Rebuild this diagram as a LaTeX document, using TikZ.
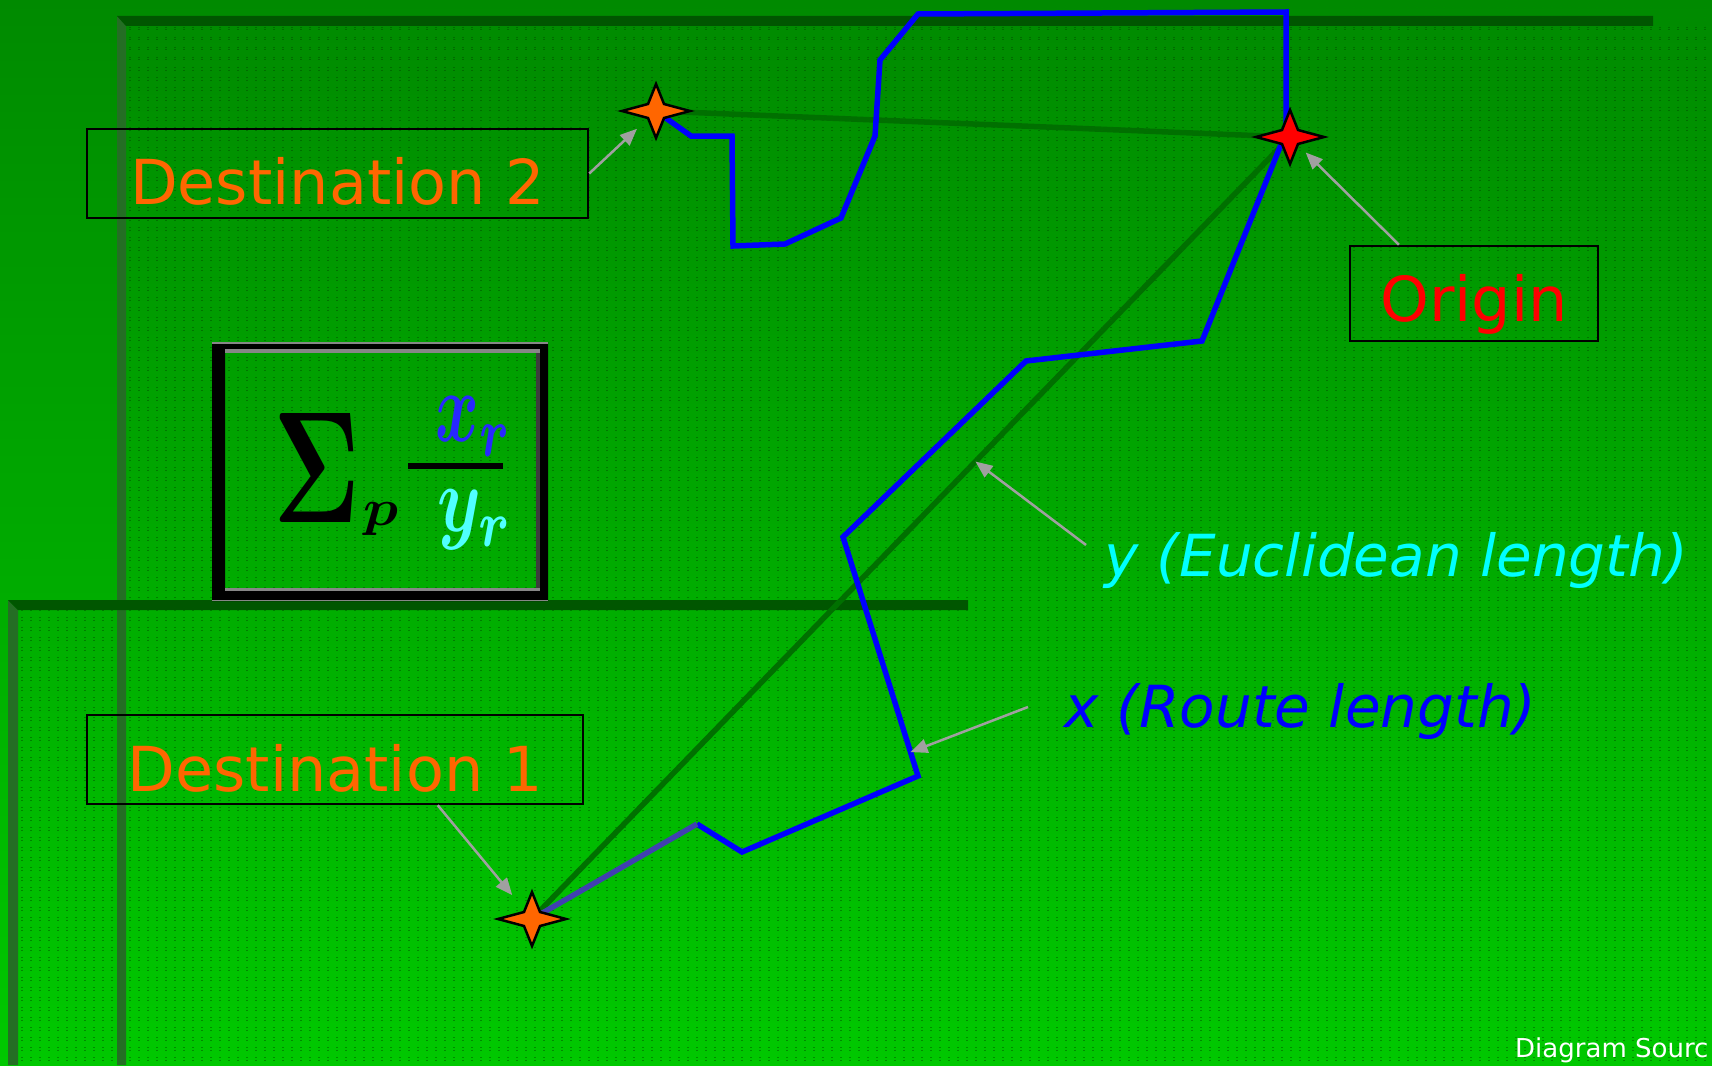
\documentclass[tikz,border=0pt]{standalone}
\usepackage{fontspec}
\setmainfont{DejaVu Sans}
\usepackage{amsmath}
\usepackage{bm}
\usepackage{graphicx}
\usetikzlibrary{arrows.meta,calc}

\definecolor{bgtop}{RGB}{0,138,0}
\definecolor{bgbot}{RGB}{0,200,0}
\definecolor{barDark}{RGB}{0,86,0}
\definecolor{barSide}{RGB}{36,110,36}
\definecolor{dotc}{RGB}{0,70,0}
\definecolor{euclid}{RGB}{0,112,0}
\definecolor{routeblue}{RGB}{0,0,255}
\definecolor{routeslate}{RGB}{64,64,176}
\definecolor{destorange}{RGB}{255,102,0}
\definecolor{callgray}{RGB}{160,160,160}
\definecolor{xblue}{RGB}{40,40,255}
\definecolor{ycyan}{RGB}{80,255,255}
\definecolor{labcyan}{RGB}{0,255,255}
\definecolor{fgray}{RGB}{135,135,135}
\definecolor{fdark}{RGB}{60,60,60}

\tikzset{
  pics/fourstar/.style={code={
    \filldraw[draw=black, line width=2.5pt, fill=#1]
      (34,0) -- (8,7) -- (0,27) -- (-8,7) -- (-34,0) -- (-8,-7) -- (0,-27) -- (8,-7) -- cycle;}},
  labelbox/.style={draw=black, line width=2.5pt, inner sep=0pt,
    font=\fontsize{62}{70}\selectfont, text depth=0pt},
  route/.style={draw=routeblue, line width=5.5pt},
  euclidline/.style={draw=euclid, line width=5.5pt},
  callout/.style={draw=callgray, line width=2.5pt, -{Triangle[length=17pt,width=14pt]}},
  lenlabel/.style={inner sep=0pt, anchor=base west, font=\fontsize{58}{66}\selectfont\itshape},
  mathpart/.style={inner sep=0pt, anchor=north west},
}

\begin{document}
\begin{tikzpicture}[x=1pt, y=-1pt]
\useasboundingbox (0,0) rectangle (1712,1065);
\clip (0,0) rectangle (1712,1065);

% backdrop
\shade[top color=bgtop, bottom color=bgbot] (0,0) rectangle (1712,1065);

% dotted texture inside the two frames
\begin{scope}
  \clip (126,26) rectangle (1712,1065) (18,610) rectangle (1712,1065);
  \foreach \x in {22,31,...,1712}
    \draw[dotc, opacity=0.45, line width=1.2pt,
          dash pattern=on 1pt off 1.5pt on 1pt off 6.5pt] (\x,27) -- (\x,1065);
\end{scope}

% frame bars
\fill[barSide] (117,16) -- (126,26) -- (126,1065) -- (117,1065) -- cycle;
\fill[barDark] (117,16) -- (1653,16) -- (1653,26) -- (126,26) -- cycle;
\fill[barSide] (8,600) -- (18,610) -- (18,1065) -- (8,1065) -- cycle;
\fill[barDark] (8,600) -- (968,600) -- (968,610) -- (18,610) -- cycle;

% formula panel
\fill[black, even odd rule] (212,342) rectangle (548,601) (225,349) rectangle (540,591);
\fill[fgray] (225,349) rectangle (540,353);
\fill[fgray] (225,588) rectangle (540,591);
\fill[fdark] (536,353) rectangle (540,588);
\draw[fgray, line width=1.5pt] (212,342.75) -- (548,342.75);
\draw[fgray, line width=1.5pt] (212,600.25) -- (548,600.25);

\node[mathpart, text=black] (sig) at (273,413) {\resizebox*{87pt}{109pt}{$\bm{\Sigma}$}};
\node[mathpart, text=black] (psub) at (363,502) {\resizebox*{35pt}{33pt}{$\bm{p}$}};
\draw[black, line width=6pt] (408,466) -- (503,466);
\node[mathpart, text=xblue] (xr) at (435,396) {\resizebox*{77pt}{60pt}{$\bm{x}_{\bm{r}}$}};
\node[mathpart, text=ycyan] (yr) at (437,490) {\resizebox*{76pt}{60pt}{$\bm{y}_{\bm{r}}$}};

% places
\coordinate (origin) at (1290,137);
\coordinate (dest2) at (656,111);
\coordinate (dest1) at (532,919);

% straight-line (Euclidean) distances
\draw[euclidline] (dest2) -- (origin);
\draw[euclidline] (origin) -- (dest1);

% route from origin to destination 2
\draw[route] ([xshift=-4pt]origin) -- (1286,12) -- (918,14) -- (880,60) -- (875,136)
  -- (841,218) -- (785,244) -- (733,246) -- (732,136) -- (691,136) -- (dest2);

% route from origin to destination 1
\coordinate (a1) at (1202,341);
\coordinate (a2) at (1026,361);
\coordinate (a3) at (843,537);
\coordinate (a4) at (918,776);
\coordinate (a5) at (742,852);
\coordinate (a6) at (697,824);
\draw[route] ([xshift=-6pt]origin) -- (a1) -- (a2) -- (a3) -- (a4) -- (a5) -- (a6);
\draw[route, draw=routeslate] (a6) -- (dest1);

% labelled boxes
\node[labelbox, minimum width=501pt, minimum height=89pt, text height=61pt,
      text=destorange] (d2box) at (337.5,173.5) {Destination 2};
\node[labelbox, minimum width=248pt, minimum height=95pt, text height=55pt,
      text=red] (obox) at (1474,293.5) {Origin};
\node[labelbox, minimum width=496pt, minimum height=89pt, text height=63pt,
      text=destorange] (d1box) at (335,759.5) {Destination 1};

% length labels
\node[lenlabel, text=labcyan] (ylab) at (1104,576) {y (Euclidean length)};
\node[lenlabel, text=routeblue] (xlab) at (1064,727) {x (Route length)};
\coordinate (ytip) at ($(origin)!0.415!(dest1)$);
\coordinate (xtip) at ($(a3)!0.9!(a4)$);

% callout arrows
\draw[callout, shorten >=26pt] (d2box.east) -- (dest2);
\draw[callout, shorten >=22pt] (obox.147) -- (origin);
\draw[callout, shorten >=31pt] (d1box.-24) -- (dest1);
\draw[callout] ($(ylab.west)+(-18,-15)$) -- (ytip);
\draw[callout] ($(xlab.west)+(-36,-4)$) -- (xtip);

% stars
\pic at (dest2) {fourstar=destorange};
\pic at (origin) {fourstar=red};
\pic at (dest1) {fourstar=destorange};

% credit line
\node[inner sep=0pt, anchor=base west, text=white, font=\fontsize{26}{30}\selectfont]
  (src) at (1515,1057) {Diagram Sourc};
\end{tikzpicture}
\end{document}
